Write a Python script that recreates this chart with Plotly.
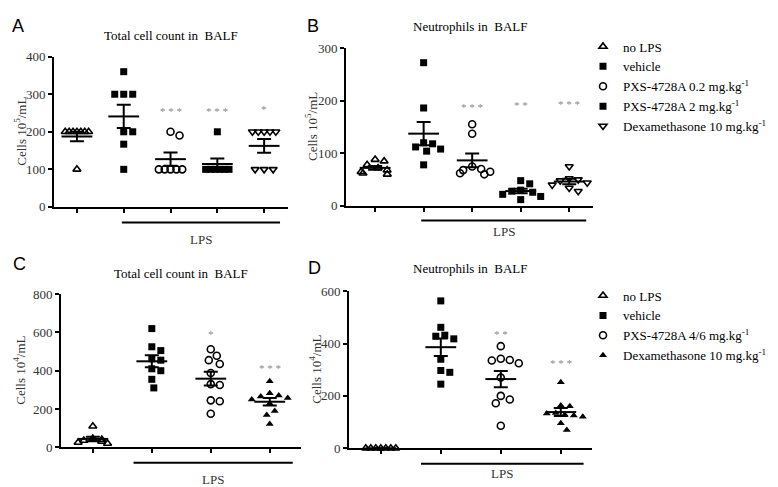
import numpy as np
import plotly.graph_objects as go

# ============================================================
# Data (cells per mL, one value per animal)
# ============================================================

# Panel A - total cell count in BALF (10^5/mL)
a_no_lps = [200, 200, 200, 200, 200, 200, 200, 100]
a_vehicle = [360, 300, 300, 300, 200, 200, 167, 100]
a_pxs_low = [200, 190, 100, 100, 100, 100, 100]
a_pxs_high = [200, 100, 100, 100, 100, 100, 100]
a_dexa = [200, 200, 200, 200, 200, 100, 100, 100]
a_stars = ["", "", "* * *", "* * *", "*"]
a_star_y = [None, None, 256, 256, 262]

# Panel B - neutrophils in BALF (10^5/mL)
b_no_lps = [88, 85, 78, 72, 68, 65, 62, 60]
b_vehicle = [272, 186, 120, 118, 112, 108, 104, 78]
b_pxs_low = [155, 137, 75, 70, 68, 65, 62, 60]
b_pxs_high = [48, 42, 30, 28, 26, 22, 18, 12]
b_dexa = [75, 52, 50, 48, 44, 40, 34, 28]
b_stars = ["", "", "* * *", "* *", "* * *"]
b_star_y = [None, None, 188, 192, 193]

# Panel C - total cell count in BALF (10^4/mL)
c_no_lps = [110, 45, 40, 35, 30, 25, 20]
c_vehicle = [620, 525, 505, 462, 455, 410, 400, 355, 310]
c_pxs = [512, 478, 455, 435, 388, 330, 325, 245, 240, 175]
c_dexa = [345, 282, 270, 265, 258, 250, 228, 190, 168, 122]
c_stars = ["", "", "*", "* * *"]
c_star_y = [None, None, 591, 413]

# Panel D - neutrophils in BALF (10^4/mL)
d_no_lps = [0, 0, 0, 0, 0, 0, 0]
d_vehicle = [563, 462, 432, 428, 418, 340, 297, 290, 245]
d_pxs = [390, 342, 337, 335, 325, 270, 200, 186, 172, 86]
d_dexa = [252, 163, 160, 135, 133, 128, 125, 120, 95, 70]
d_stars = ["", "", "* *", "* * *"]
d_star_y = [None, None, 436, 325]

names_ab = [
    "no LPS",
    "vehicle",
    "PXS-4728A 0.2 mg.kg<sup>-1</sup>",
    "PXS-4728A 2 mg.kg<sup>-1</sup>",
    "Dexamethasone 10 mg.kg<sup>-1</sup>",
]
names_cd = [
    "no LPS",
    "vehicle",
    "PXS-4728A 4/6 mg.kg<sup>-1</sup>",
    "Dexamethasone 10 mg.kg<sup>-1</sup>",
]
symbols_ab = ["triangle-up-open", "square", "circle-open", "square", "triangle-down-open"]
symbols_cd = ["triangle-up-open", "square", "circle-open", "triangle-up"]


# ============================================================
# Layout of the four panels (pixels in a 778x487 page)
# ============================================================

W, H = 778, 487
SERIF = "Liberation Serif"
SANS = "Liberation Sans"

panels = [
    dict(letter="A", ax="", groups=[a_no_lps, a_vehicle, a_pxs_low, a_pxs_high, a_dexa],
         names=names_ab, symbols=symbols_ab, stars=a_stars, star_y=a_star_y,
         title="Total cell count in  BALF", ytitle="Cells 10<sup>5</sup>/mL",
         px_x=(46, 280), px_y=(198, 43), xrange=(-0.49, 4.51), yrange=(0, 400), dtick=100,
         lps=(0.96, 4.34), lps_bar=214, lps_text=232, legend="legend",
         letter_pos=(10, 11), ytitle_x=12, title_y=21),
    dict(letter="B", ax="2", groups=[b_no_lps, b_vehicle, b_pxs_low, b_pxs_high, b_dexa],
         names=names_ab, symbols=symbols_ab, stars=b_stars, star_y=b_star_y,
         title="Neutrophils in  BALF", ytitle="Cells 10<sup>5</sup>/mL",
         px_x=(338, 585), px_y=(197, 34), xrange=(-0.6, 4.49), yrange=(0, 300), dtick=100,
         lps=(0.95, 4.35), lps_bar=212, lps_text=223, legend=None,
         letter_pos=(305, 11), ytitle_x=303, title_y=12),
    dict(letter="C", ax="3", groups=[c_no_lps, c_vehicle, c_pxs, c_dexa],
         names=names_cd, symbols=symbols_cd, stars=c_stars, star_y=c_star_y,
         title="Total cell count in  BALF", ytitle="Cells 10<sup>4</sup>/mL",
         px_x=(53, 293), px_y=(446, 288), xrange=(-0.54, 3.53), yrange=(0, 800), dtick=200,
         lps=(0.69, 3.39), lps_bar=462, lps_text=479, legend="legend2",
         letter_pos=(11, 257), ytitle_x=11, title_y=267),
    dict(letter="D", ax="4", groups=[d_no_lps, d_vehicle, d_pxs, d_dexa],
         names=names_cd, symbols=symbols_cd, stars=d_stars, star_y=d_star_y,
         title="Neutrophils in  BALF", ytitle="Cells 10<sup>4</sup>/mL",
         px_x=(341, 584), px_y=(447, 285), xrange=(-0.53, 3.52), yrange=(0, 600), dtick=200,
         lps=(0.67, 3.38), lps_bar=463, lps_text=473, legend=None,
         letter_pos=(306, 261), ytitle_x=307, title_y=262),
]


def swarm_offsets(values, y_px, d=9.0, cap=12.0):
    """Simple beeswarm in pixel space, returns horizontal offsets in px."""
    vals = np.asarray(values, dtype=float)
    ys = vals * y_px
    order = np.argsort(-vals, kind="stable")
    cands = [0.0]
    for k in range(1, 60):
        cands += [float(k), float(-k)]
    placed = []
    offs = np.zeros(len(vals))
    for i in order:
        for c in cands:
            if all((c - px) ** 2 + (ys[i] - py) ** 2 >= d * d for px, py in placed):
                break
        placed.append((c, ys[i]))
        offs[i] = c
    # squeeze rows of tied values that get too wide
    done = np.zeros(len(vals), bool)
    for i in range(len(vals)):
        if done[i]:
            continue
        row = np.where(np.abs(ys - ys[i]) < 1.5)[0]
        done[row] = True
        lo, hi = offs[row].min(), offs[row].max()
        if hi - lo > 2 * cap:
            offs[row] = -cap + (offs[row] - lo) * (2 * cap / (hi - lo))
    return offs


fig = go.Figure()
annotations = []
shapes = []
layout_axes = {}

for p in panels:
    xa, ya = "x" + p["ax"], "y" + p["ax"]
    x0, x1 = p["px_x"]
    yb, yt = p["px_y"]
    x_px = (x1 - x0) / (p["xrange"][1] - p["xrange"][0])
    y_px = (yb - yt) / (p["yrange"][1] - p["yrange"][0])
    n_groups = len(p["groups"])

    # points
    for gi, vals in enumerate(p["groups"]):
        offs = swarm_offsets(vals, y_px, cap=0.25 * x_px)
        sym = p["symbols"][gi]
        is_open = sym.endswith("-open")
        fig.add_trace(go.Scatter(
            x=gi + offs / x_px, y=vals, xaxis=xa, yaxis=ya,
            mode="markers", name=p["names"][gi],
            marker=dict(symbol=sym, size=7, color="black",
                        line=dict(width=1.6 if is_open else 0, color="black")),
            cliponaxis=False,
            showlegend=p["legend"] is not None,
            legend=p["legend"] or "legend",
            hoverinfo="y",
        ))

    # mean +/- SEM
    means = [float(np.mean(v)) for v in p["groups"]]
    sems = [float(np.std(v, ddof=1) / np.sqrt(len(v))) for v in p["groups"]]
    fig.add_trace(go.Scatter(
        x=list(range(n_groups)), y=means, xaxis=xa, yaxis=ya,
        mode="markers", showlegend=False, cliponaxis=False,
        marker=dict(symbol="line-ew", size=22, color="black",
                    line=dict(width=2, color="black")),
        error_y=dict(type="data", array=sems, width=7, thickness=2, color="black"),
    ))

    # significance stars
    for gi, (s, sy) in enumerate(zip(p["stars"], p["star_y"])):
        if s:
            annotations.append(dict(
                x=gi, y=sy, xref=xa, yref=ya, text=s, showarrow=False,
                font=dict(family=SERIF, size=11, color="#8a8a8a"),
                xanchor="center", yanchor="middle",
            ))

    # axes
    layout_axes["xaxis" + p["ax"]] = dict(
        domain=[x0 / W, x1 / W], range=list(p["xrange"]), anchor=ya,
        showgrid=False, zeroline=False, showline=True, linecolor="black", linewidth=2,
        tickmode="array", tickvals=list(range(n_groups)), ticktext=[""] * n_groups,
        ticks="outside", ticklen=4, tickwidth=2, tickcolor="black", fixedrange=True,
    )
    layout_axes["yaxis" + p["ax"]] = dict(
        domain=[1 - yb / H, 1 - yt / H], range=list(p["yrange"]), anchor=xa,
        showgrid=False, zeroline=False, showline=True, linecolor="black", linewidth=2,
        dtick=p["dtick"], tick0=0, ticks="outside", ticklen=4, tickwidth=2,
        tickcolor="black", tickfont=dict(family=SERIF, size=13, color="#333333"),
        fixedrange=True,
    )

    # LPS bracket
    shapes.append(dict(
        type="line", xref=xa, yref="paper",
        x0=p["lps"][0], x1=p["lps"][1],
        y0=1 - p["lps_bar"] / H, y1=1 - p["lps_bar"] / H,
        line=dict(color="black", width=2),
    ))
    annotations.append(dict(
        x=(p["lps"][0] + p["lps"][1]) / 2, y=1 - p["lps_text"] / H,
        xref=xa, yref="paper", text="LPS", showarrow=False,
        font=dict(family=SERIF, size=13, color="#333333"),
        xanchor="center", yanchor="middle",
    ))

    # panel title, letter and y title
    annotations.append(dict(
        x=(x0 + x1) / 2 / W, y=1 - p["title_y"] / H, xref="paper", yref="paper",
        text=p["title"], showarrow=False,
        font=dict(family=SERIF, size=13, color="black"),
        xanchor="center", yanchor="middle",
    ))
    lx, ly = p["letter_pos"]
    annotations.append(dict(
        x=lx / W, y=1 - ly / H, xref="paper", yref="paper",
        text=p["letter"], showarrow=False,
        font=dict(family=SANS, size=18, color="black"),
        xanchor="center", yanchor="middle",
    ))
    annotations.append(dict(
        x=p["ytitle_x"] / W, y=1 - (yb + yt) / 2 / H, xref="paper", yref="paper",
        text=p["ytitle"], textangle=-90, showarrow=False,
        font=dict(family=SERIF, size=13, color="#333333"),
        xanchor="center", yanchor="middle",
    ))

legend_style = dict(
    xanchor="left", yanchor="top", bgcolor="rgba(0,0,0,0)",
    font=dict(family=SERIF, size=13, color="black"),
    tracegroupgap=0, itemclick=False, itemdoubleclick=False,
)

fig.update_layout(
    width=W, height=H,
    margin=dict(l=0, r=0, t=0, b=0),
    paper_bgcolor="white", plot_bgcolor="white",
    font=dict(family=SERIF, size=13, color="black"),
    annotations=annotations, shapes=shapes,
    legend=dict(x=575 / W, y=1 - 17 / H, **legend_style),
    legend2=dict(x=575 / W, y=1 - 274 / H, **legend_style),
    **layout_axes,
)

fig.write_html("out.html")
